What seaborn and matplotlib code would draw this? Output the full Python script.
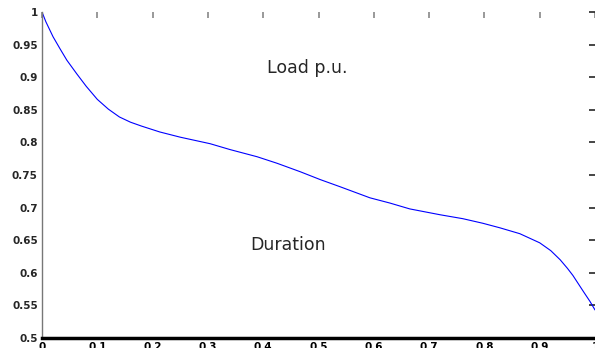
import numpy as np
import pandas as pd
import matplotlib
matplotlib.use("Agg")
import matplotlib.pyplot as plt
import seaborn as sns

# load duration curve
duration = [0.0, 0.007, 0.02, 0.033, 0.045, 0.063, 0.08, 0.10, 0.12, 0.14, 0.16,
            0.18, 0.213, 0.25, 0.304, 0.34, 0.389, 0.425, 0.467, 0.503, 0.539,
            0.593, 0.629, 0.665, 0.72, 0.761, 0.797, 0.828, 0.864, 0.90, 0.92,
            0.937, 0.95, 0.96, 0.97, 0.98, 0.991, 1.0]
load_pu = [1.0, 0.985, 0.962, 0.943, 0.926, 0.905, 0.886, 0.866, 0.851, 0.839, 0.831,
           0.825, 0.816, 0.808, 0.798, 0.789, 0.778, 0.768, 0.755, 0.743, 0.732,
           0.715, 0.707, 0.698, 0.689, 0.683, 0.676, 0.669, 0.660, 0.646, 0.634,
           0.620, 0.607, 0.596, 0.583, 0.570, 0.556, 0.543]

x_ticks = [0, 0.1, 0.2, 0.3, 0.4, 0.5, 0.6, 0.7, 0.8, 0.9, 1]
y_ticks = [0.5, 0.55, 0.6, 0.65, 0.7, 0.75, 0.8, 0.85, 0.9, 0.95, 1]

df = pd.DataFrame({"Duration": duration, "Load": load_pu})

sns.set_style("white")
fig = plt.figure(figsize=(5.95, 3.48), dpi=100)
ax = fig.add_axes([42 / 595, 10 / 348, 553 / 595, 326 / 348])

sns.lineplot(data=df, x="Duration", y="Load", color="#0000ff", linewidth=0.8, ax=ax)

ax.set_xlim(0, 1)
ax.set_ylim(0.5, 1.0)
ax.set_xticks(x_ticks)
ax.set_xticklabels([f"{v:g}" for v in x_ticks])
ax.set_yticks(y_ticks)
ax.set_yticklabels([f"{v:g}" for v in y_ticks])
ax.set_xlabel("")
ax.set_ylabel("")

# matlab-ish frame: grey left axis, thick black bottom, mirrored ticks
ax.spines["top"].set_visible(False)
ax.spines["right"].set_visible(False)
ax.spines["left"].set_color("#777777")
ax.spines["left"].set_linewidth(1.0)
ax.spines["bottom"].set_color("black")
ax.spines["bottom"].set_linewidth(2.5)
ax.tick_params(axis="both", direction="in", length=4, width=1.2,
               top=True, right=True, labelsize=7.5, pad=3)
ax.tick_params(axis="x", colors="#888888", labelcolor="black")
for lab in ax.get_xticklabels() + ax.get_yticklabels():
    lab.set_fontweight("bold")

ax.text(0.48, 0.828, "Load p.u.", transform=ax.transAxes, fontsize=12.5,
        ha="center", va="center")
ax.text(0.445, 0.285, "Duration", transform=ax.transAxes, fontsize=12.5,
        ha="center", va="center")

plt.savefig("out.png", dpi=100)
plt.close(fig)
